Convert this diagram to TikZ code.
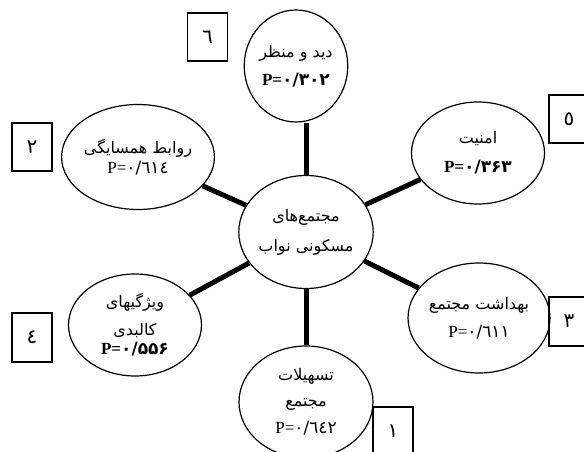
\documentclass[tikz,border=0pt]{standalone}
\usepackage{fontspec}
\setmainfont{Liberation Serif}
\newfontfamily\fa[Script=Arabic]{DejaVu Sans}
\TeXXeTstate=1
\usetikzlibrary{shapes.geometric}
\tikzset{
  oval/.style={draw, line width=1.2pt, ellipse, inner sep=0pt, align=center, font=\fontsize{17}{20}\selectfont},
  numbox/.style={draw, line width=1.2pt, rectangle, inner sep=0pt, minimum width=40pt, font=\fa\fontsize{20}{24}\selectfont},
  conn/.style={line width=5pt}
}
\newcommand{\rtl}[1]{{\fa\fontsize{16}{19}\selectfont\beginR #1\endR}}
\begin{document}
\begin{tikzpicture}[x=1pt,y=-1pt]
\useasboundingbox (0,0) rectangle (584,452);
\node[oval, minimum width=98pt, minimum height=112pt] (t) at (296,66)
  {\rtl{دید و منظر}\\[8pt] \textbf{P=}{\fa\bfseries ۰/۳۰۲}};
\node[oval, minimum width=132pt, minimum height=113pt] (c) at (306,232)
  {\rtl{مجتمع‌های}\\[10pt] \rtl{مسکونی نواب}};
\node[oval, minimum width=133pt, minimum height=102pt] (a) at (478,153)
  {\rtl{امنیت}\\[9pt] \textbf{P=}{\fa\bfseries ۰/۳۶۳}};
\node[oval, minimum width=143pt, minimum height=105pt] (r) at (138,157)
  {\rtl{روابط همسایگی}\\[0pt] P={\fa ٠/٦١٤}};
\node[oval, minimum width=133pt, minimum height=102pt] (v) at (135,325)
  {\rtl{ویژگیهای}\\[8pt] \rtl{کالبدی}\\[-1pt] \textbf{P=}{\fa\bfseries ۰/۵۵۶}};
\node[oval, minimum width=136pt, minimum height=110pt] (h) at (479,318)
  {\rtl{بهداشت مجتمع}\\[8pt] P={\fa ٠/٦١١}};
\node[oval, minimum width=134pt, minimum height=112pt] (s) at (306,402)
  {\rtl{تسهیلات}\\[6pt] \rtl{مجتمع}\\[7pt] P={\fa ٠/٦٤٢}};
\node[numbox, minimum height=48pt] (b6) at (207.5,37) {٦};
\node[numbox, minimum height=48pt] (b2) at (32,147) {٢};
\node[numbox, minimum height=49pt] (b4) at (32,337.5) {٤};
\node[numbox, minimum height=48pt] (b5) at (569,119) {٥};
\node[numbox, minimum height=49pt] (b3) at (569,321.5) {٣};
\node[numbox, minimum height=49pt] (b1) at (393,431.5) {١};
\draw[conn] (c.north) -- (c.north |- t.south);
\draw[conn] (c) -- (s);
\draw[conn] (c) -- (a);
\draw[conn] (c) -- (r);
\draw[conn] (c) -- (v);
\draw[conn] (c) -- (h);
\end{tikzpicture}
\end{document}
